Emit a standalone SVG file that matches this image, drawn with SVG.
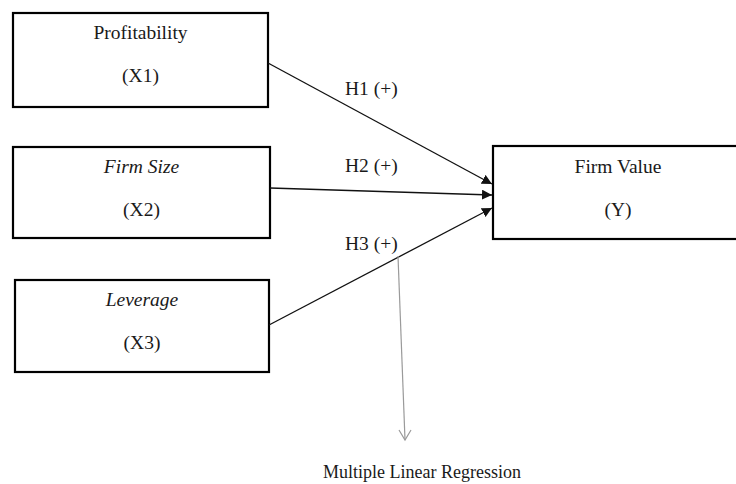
<svg xmlns="http://www.w3.org/2000/svg" width="736" height="484" viewBox="0 0 736 484">
<defs>
<style>
.box{fill:#fff;stroke:#000;stroke-width:2.2}
.t{font-family:'Liberation Serif','Times New Roman','DejaVu Serif',serif;font-size:19.5px;fill:#1a1a1a}
.i{font-style:italic}
.c{text-anchor:middle}
.ln{stroke:#111;stroke-width:1.3;fill:none}
.g{stroke:#9a9a9a;stroke-width:1.2;fill:none}
</style>
<marker id="ah" viewBox="0 0 10 10" refX="10" refY="5" markerWidth="10" markerHeight="10" markerUnits="userSpaceOnUse" orient="auto">
<path d="M0,0 L10,5 L0,10 z" fill="#111"/>
</marker>
</defs>
<rect width="736" height="484" fill="#fff"/>
<g id="x1">
<rect class="box" x="13" y="13" width="255" height="94"/>
<text class="t c" font-family="Liberation Serif, serif" x="140.5" y="39">Profitability</text>
<text class="t c" font-family="Liberation Serif, serif" x="140.5" y="82">(X1)</text>
</g>
<g id="x2">
<rect class="box" x="13" y="147" width="257" height="91"/>
<text class="t c i" font-family="Liberation Serif, serif" x="141.5" y="173">Firm Size</text>
<text class="t c" font-family="Liberation Serif, serif" x="141.5" y="216">(X2)</text>
</g>
<g id="x3">
<rect class="box" x="15" y="280" width="254" height="92"/>
<text class="t c i" font-family="Liberation Serif, serif" x="142" y="306">Leverage</text>
<text class="t c" font-family="Liberation Serif, serif" x="142" y="349">(X3)</text>
</g>
<g id="y">
<rect class="box" x="493" y="146" width="252" height="93"/>
<text class="t c" font-family="Liberation Serif, serif" x="618" y="173">Firm Value</text>
<text class="t c" font-family="Liberation Serif, serif" x="618" y="216">(Y)</text>
</g>
<g id="connectors">
<line class="ln" x1="268" y1="63" x2="492" y2="184" marker-end="url(#ah)"/>
<line class="ln" x1="270" y1="188" x2="492" y2="195" marker-end="url(#ah)"/>
<line class="ln" x1="269" y1="325" x2="492" y2="208" marker-end="url(#ah)"/>
<line class="g" x1="398" y1="256" x2="405" y2="440"/>
<polyline class="g" points="399,430 405,440 411,430"/>
</g>
<g id="labels">
<text class="t" font-family="Liberation Serif, serif" x="345" y="95">H1 (+)</text>
<text class="t" font-family="Liberation Serif, serif" x="345" y="172">H2 (+)</text>
<text class="t" font-family="Liberation Serif, serif" x="345" y="250">H3 (+)</text>
<text class="t" font-family="Liberation Serif, serif" x="422" y="478" style="font-size:18px" text-anchor="middle">Multiple Linear Regression</text>
</g>
</svg>
